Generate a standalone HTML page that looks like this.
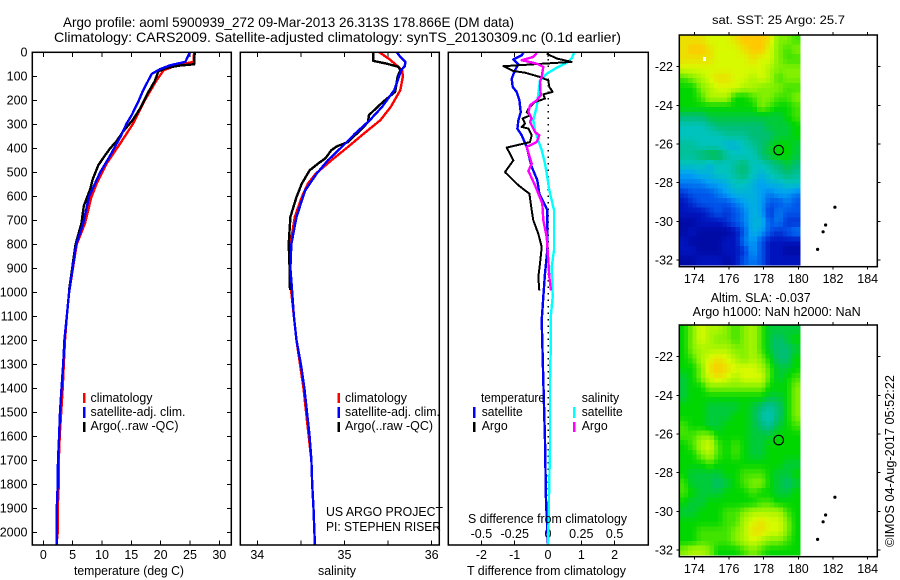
<!DOCTYPE html>
<html lang="en">
<head>
<meta charset="utf-8">
<title>Argo profile 5900939_272</title>
<style>
html,body{margin:0;padding:0;background:#fff;width:900px;height:580px;overflow:hidden}
svg{display:block}
text{font-family:"Liberation Sans",sans-serif;font-size:12.5px;fill:#000}
.title{font-size:14px}
</style>
</head>
<body>
<svg id="fig" width="900" height="580" viewBox="0 0 900 580" xmlns="http://www.w3.org/2000/svg">
  <rect x="0" y="0" width="900" height="580" fill="#fff"/>
  <text class="title" x="63" y="27" textLength="451" lengthAdjust="spacingAndGlyphs">Argo profile: aoml 5900939_272 09-Mar-2013 26.313S 178.866E (DM data)</text>
  <text class="title" x="54" y="42" textLength="567" lengthAdjust="spacingAndGlyphs">Climatology: CARS2009. Satellite-adjusted climatology: synTS_20130309.nc (0.1d earlier)</text>

  <g id="p1"></g>
  <g id="p2"></g>
  <g id="p3"></g>
  <g id="m1"></g>
  <g id="m2"></g>

  <text x="74" y="575" textLength="110" lengthAdjust="spacingAndGlyphs">temperature (deg C)</text>
  <text x="318" y="575" textLength="38" lengthAdjust="spacingAndGlyphs">salinity</text>
  <text x="467" y="575" textLength="159" lengthAdjust="spacingAndGlyphs">T difference from climatology</text>
  <text x="468" y="523" textLength="159" lengthAdjust="spacingAndGlyphs">S difference from climatology</text>

  <g>
    <rect x="83" y="393" width="2.5" height="10" fill="#f00"/>
    <rect x="83" y="407" width="2.5" height="11" fill="#00f"/>
    <rect x="83" y="422" width="2.5" height="10" fill="#000"/>
    <text x="90.5" y="402" textLength="62" lengthAdjust="spacingAndGlyphs">climatology</text>
    <text x="90.5" y="416" textLength="95" lengthAdjust="spacingAndGlyphs">satellite-adj. clim.</text>
    <text x="90.5" y="430" textLength="88" lengthAdjust="spacingAndGlyphs">Argo(..raw -QC)</text>
  </g>
  <g>
    <rect x="337.5" y="393" width="2.5" height="10" fill="#f00"/>
    <rect x="337.5" y="407" width="2.5" height="11" fill="#00f"/>
    <rect x="337.5" y="422" width="2.5" height="10" fill="#000"/>
    <text x="345" y="402" textLength="62" lengthAdjust="spacingAndGlyphs">climatology</text>
    <text x="345" y="416" textLength="95" lengthAdjust="spacingAndGlyphs">satellite-adj. clim.</text>
    <text x="345" y="430" textLength="88" lengthAdjust="spacingAndGlyphs">Argo(..raw -QC)</text>
  </g>
  <text x="326" y="516" textLength="117" lengthAdjust="spacingAndGlyphs">US ARGO PROJECT</text>
  <text x="326" y="531" textLength="115" lengthAdjust="spacingAndGlyphs">PI: STEPHEN RISER</text>

  <g>
    <text x="481" y="402" textLength="64" lengthAdjust="spacingAndGlyphs">temperature</text>
    <text x="581.7" y="402" textLength="37.5" lengthAdjust="spacingAndGlyphs">salinity</text>
    <rect x="473" y="407" width="2.5" height="11" fill="#00f"/>
    <rect x="473" y="422" width="2.5" height="10" fill="#000"/>
    <rect x="573" y="407" width="2.5" height="11" fill="#0ff"/>
    <rect x="573" y="422" width="2.5" height="10" fill="#f0f"/>
    <text x="481.7" y="416" textLength="41" lengthAdjust="spacingAndGlyphs">satellite</text>
    <text x="481.7" y="430" textLength="26" lengthAdjust="spacingAndGlyphs">Argo</text>
    <text x="581.7" y="416" textLength="41" lengthAdjust="spacingAndGlyphs">satellite</text>
    <text x="581.7" y="430" textLength="26" lengthAdjust="spacingAndGlyphs">Argo</text>
  </g>

  <text x="712" y="24" textLength="133" lengthAdjust="spacingAndGlyphs" style="font-size:11.5px">sat. SST: 25 Argo: 25.7</text>
  <text x="710.7" y="302" textLength="100" lengthAdjust="spacingAndGlyphs">Altim. SLA: -0.037</text>
  <text x="692.7" y="316" textLength="168" lengthAdjust="spacingAndGlyphs">Argo h1000: NaN h2000: NaN</text>
  <text transform="translate(894,547) rotate(-90)" x="0" y="0" textLength="172" lengthAdjust="spacingAndGlyphs">©IMOS 04-Aug-2017 05:52:22</text>
</svg>

<script>
// ---- depth tick data ----
const depthTicks = [0,100,200,300,400,500,600,700,800,900,1000,1100,1200,1300,1400,1500,1600,1700,1800,1900,2000];
const tempTicks = [0,5,10,15,20,25,30];
const salTicks = [34,34.5,35,35.5,36];
const salTickLabels = ['34','','35','','36'];
const diffTTicks = [-2,-1,0,1,2];
const diffSTickLabels = ['-0.5','-0.25','0','0.25','0.5'];
const diffSTicks = [-0.5,-0.25,0,0.25,0.5];
const lonTicks = [174,176,178,180,182,184];
const latTicks = [-22,-24,-26,-28,-30,-32];

// ---- temperature profiles (depth in dbar, value in deg C) ----
const climTempDepth = [0,40,54,75,117,200,297,380,463,547,603,713,800,1000,1100,1200,1300,1400,1500,1600,1700,1800,1900,2000,2050];
const climTempValue = [25.7,25.6,22.7,20.5,19.3,17.3,15.3,13.1,10.8,9.1,8.2,7.1,5.7,4.4,4.0,3.7,3.5,3.3,3.05,2.8,2.65,2.65,2.45,2.45,2.25];
const satTempDepth = [0,40,54,70,90,117,160,200,260,297,350,430,500,600,713,800,1000,1100,1200,1300,1400,1500,1600,1700,1800,1900,2000,2050];
const satTempValue = [25.0,24.2,21.6,19.9,18.5,17.9,17.0,16.3,15.1,14.2,13.2,11.4,9.7,7.8,6.8,5.6,4.4,4.0,3.6,3.4,3.1,2.85,2.7,2.5,2.45,2.3,2.3,2.3];
const argoTempDepth = [0,50,55,65,80,120,170,230,280,330,370,400,430,470,530,570,640,713,800,990];
const argoTempValue = [25.8,25.7,23.3,21,19.6,19,17.8,16.6,15.3,13.6,12.5,11.4,10.5,9.4,8.4,8,6.9,6.5,5.5,4.4];

// ---- salinity profiles (depth, psu) ----
const climSalDepth = [0,30,55,75,100,158,228,283,339,394,450,506,547,603,686,800,900,1000,1100,1200,1300,1400,1500,1600,1700,1800,1900,2000,2050];
const climSalValue = [35.40,35.52,35.6,35.66,35.67,35.64,35.53,35.41,35.22,35.04,34.85,34.67,34.58,34.51,34.43,34.38,34.37,34.39,34.42,34.45,34.49,34.53,34.56,34.59,34.62,34.63,34.645,34.655,34.66];
const satSalDepth = [0,19,40,58,75,117,158,228,283,339,394,450,506,575,630,686,800,900,1000,1100,1200,1300,1400,1500,1600,1700,1800,1900,2000,2050];
const satSalValue = [35.6,35.64,35.70,35.69,35.65,35.61,35.57,35.43,35.29,35.12,34.97,34.81,34.68,34.55,34.50,34.45,34.39,34.38,34.40,34.42,34.45,34.50,34.54,34.57,34.6,34.62,34.63,34.645,34.655,34.66];
const argoSalDepth = [0,36,47,61,75,100,165,207,234,262,290,311,346,374,392,408,442,463,492,547,603,686,800,900,990];
const argoSalValue = [35.33,35.33,35.48,35.62,35.64,35.61,35.58,35.44,35.36,35.28,35.27,35.22,35.12,35.04,34.91,34.85,34.78,34.70,34.6,34.51,34.45,34.38,34.36,34.37,34.375];

// ---- differences from climatology ----
const satDTDepth = [3,12,30,50,75,110,144,165,200,249,283,318,346,394,450,477,533,589,637,658,825,922,1019,1117,1367,1617,1867,1992,2050];
const satDTValue = [-0.74,-0.79,-1.04,-0.89,-0.99,-1.09,-1.06,-0.94,-0.86,-0.82,-0.89,-0.92,-0.79,-0.64,-0.54,-0.49,-0.32,-0.26,-0.09,-0.02,-0.02,-0.09,-0.14,-0.19,-0.14,-0.09,-0.06,-0.02,0];
const argoDTDepth = [6,26,40,58,78,85,103,117,144,165,175,193,207,235,249,263,276,297,311,318,346,374,397,450,499,554,589,658,700,756,811,881,936,992];
const argoDTValue = [-0.04,0.26,0.71,-1.34,-1.04,-0.69,-0.24,0.01,0.04,0.14,-0.14,-0.09,-0.39,-0.59,-0.64,-0.54,-0.76,-0.69,-0.79,-0.59,-0.49,-0.54,-1.24,-1.04,-1.29,-0.89,-0.56,-0.49,-0.44,-0.29,-0.19,-0.24,-0.29,-0.26];
const satDSDepth = [3,26,44,64,89,117,172,228,283,325,367,408,464,505,575,617,658,825,894,1019,1103,1200,1367,1646,2000,2050];
const satDSValue = [0.195,0.178,0.14,0.065,-0.01,-0.06,-0.0725,-0.085,-0.11,-0.0975,-0.0725,-0.0475,-0.0225,-0.01,0.01,0.0275,0.045,0.045,0.0275,0.035,0.02,0.022,0.015,0.015,0.002,0];
const argoDSDepth = [3,19,33,47,61,103,124,179,200,221,249,276,290,332,346,374,394,464,494,554,630,700,769,867,936,992];
const argoDSValue = [-0.085,-0.11,-0.1975,-0.085,-0.035,-0.0475,-0.06,-0.055,-0.085,-0.135,-0.1475,-0.1225,-0.135,-0.0975,-0.065,-0.085,-0.16,-0.1225,-0.1475,-0.0975,-0.0425,-0.035,-0.01,0.0025,0.01,0.0225];

// ---- map data (colour index 0..9, west to east, north to south) ----
const sstValues = [
[8.5,8.5,8.5,8,8,8,8.5,9,9,9,8.5,7,7,6.5],
[8.5,9,9,8.5,8,8,8,8.5,9,9,8,7,6.5,7],
[8.5,8.5,8.5,8.5,8,8,8,8,8.5,8,8,7,6.5,6.5],
[8,8,8,8,8,8,8,8,8,8,7.5,7,7,7],
[6.5,7,7.5,8,8.5,8.5,8,8,7.5,8,7.5,6.5,7,7],
[6,6,7,7.5,8,8,8,7.5,7.5,7,7,7,6.5,6.5],
[6,6,6.5,7.5,7.5,7.5,6,6,6.5,7,7,6.5,6.5,7],
[6,6,6,6,6,6,6,6,6,7,6.5,6,6,6.5],
[5,5,5,5.5,5.5,5.5,5.5,5.5,5.5,5.5,5.5,5.5,6,6.5],
[4,4,4,4.5,5,5,5,5,5,5,5.5,5.5,5.5,6],
[4,4,4,4,4,4.5,4.5,4.5,5,5,5,5.5,5.5,6],
[4.5,4.5,4,4,4,3.5,3.5,4,4.5,5,5.5,6,6,5.5],
[4.5,4.5,5,5.5,5.5,4.5,4,4,4,5,5.5,6,6,5.5],
[4,4,4,3.5,4,4,4.5,5,4,4,4.5,5,5.5,5],
[3,3,3.5,3.5,4,4,4.5,5,4,3.5,4,4.5,5,4.5],
[2.5,2.5,2.5,3,3,3.5,4,4,3.5,3,3.5,3.5,4,4],
[1.5,2,2,2,2.5,3,3.5,3.5,3.5,3,2.5,3,3,2.5],
[1,1.5,2,2,2,2,2.5,3,3.5,3,2,2,2.5,2],
[1,1,1,1.5,2,1.5,2,2.5,3.5,3,1.5,2.5,2,2],
[0.5,0.5,1,1,1,1.5,2,2.5,3.5,3.5,2,2.5,1.5,1.5],
[0.5,1,0.5,0.5,0.5,0.5,1,2,3.5,3,2,1.5,2,2.5],
[1,0.5,0.5,0.5,0.5,1,1,2.5,3,2,1,1,1,1],
[1,1,0.5,0.5,0.5,1,1,1.5,3,2,1,1,0.5,0.5],
[0.5,0.5,1,1,1,0.5,1,2,2.5,2,1,1,1,1]
];
const slaValues = [
[6,7,8,7.5,7.5,7,6.5,7,7.5,6.5,5.5,5.5,5.5,5.5],
[6,7,8,7.5,7,7,6.5,7,7.5,6.5,5.5,5,5.5,6],
[6,7,7.5,7.5,7.5,7.5,7,7,7.5,6.5,5.5,5,5,5.5],
[6,6.5,7.5,8,8.5,8,7.5,7,7.5,7,6,5,5,6],
[6,6,7,8.5,9,8.5,8,8,8,7.5,6.5,5.5,5.5,6],
[5.5,6,7,8,8.5,8,7.5,8,8,8,6.5,5.5,6,6.5],
[5.5,6,6,7,7,7,7,7,7,7,6,6,6,7],
[5.5,6,6,6,6,6,6,6,6,6,5.5,5.5,6,7],
[6,6,6,5.5,5.5,5.5,5.5,6,5.5,5,4.5,5,6,7],
[6,6,6,5.5,5.5,5.5,6,6,5.5,4.5,4,5,6,7],
[6.5,6,6,5.5,5.5,6,6,6,5.5,5,4.5,5.5,6,6.5],
[6.5,6.5,7,7,6,6,6,6,5.5,5.5,5.5,6,6,6],
[6,6.5,7.5,8,6.5,6,6.5,6,5.5,5.5,6,6,6,6],
[6,6,7,7.5,6.5,6,6.5,6,5.5,5.5,6,6,6,6],
[6,6,6,6.5,6,6,6,6,6,6,6,6,5.5,5.5],
[6,5.5,5.5,5.5,5.5,6,6,6.5,6.5,6.5,6,5.5,5.5,6],
[6.5,5.5,5.5,5.5,5,5.5,6,6.5,7,7,6,5.5,5,5.5],
[6.5,6,5.5,5.5,5.5,6,6,6,6.5,6,6,5.5,5.5,6],
[6,5.5,5.5,6,6,6,6,6,6,6.5,6.5,6,6,6],
[5.5,5.5,6,6,6,6.5,6.5,7,7.5,7.5,7.5,7.5,6.5,6],
[6,6,6,6,6,6.5,6.5,7.5,8,8.5,8,8,7,6],
[6,6,6.5,6.5,6.5,6.5,7,7.5,8.5,8.5,8,8,7,6],
[6,6,6.5,6.5,6.5,6.5,7,7.5,8,7.5,7,7,6.5,6],
[7,7.5,7.5,7,6,6,6,6.5,7,6.5,6,6,6,6]
];
const coastLon = [182.11,181.57,181.43,181.11];
const coastLat = [-29.27,-30.19,-30.54,-31.45];
const argoLon = 178.866;
const argoLat = -26.313;

// ---- axis functions ----
const NS = 'http://www.w3.org/2000/svg';
const yDepth = d => 52.3 + d * 0.24;
const xTemp = v => 43.3 + v * 5.867;
const xSal = v => 257.3 + (v - 34) * 87.2;
const xDT = v => 548 + v * 33.3;
const xDS = v => 548 + v * 133.2;
const xLon = v => 694.3 + (v - 174) * 17.34;
const yLat = (v, top) => top + 31.7 + (-22 - v) * 19.33;

function line(parent, x1, y1, x2, y2, name, w, color) {
  const el = document.createElementNS(NS, 'line');
  
  
  el.setAttribute('x1', x1);
  el.setAttribute('y1', y1);
  el.setAttribute('x2', x2);
  el.setAttribute('y2', y2);
  el.setAttribute('stroke', color || '#000');
  el.setAttribute('stroke-width', w || 1);
  el.setAttribute('shape-rendering', 'crispEdges');
  parent.appendChild(el);
  return el;
}
function label(parent, x, y, str, anchor, name) {
  const el = document.createElementNS(NS, 'text');
  
  
  el.setAttribute('x', x);
  el.setAttribute('y', y);
  el.setAttribute('text-anchor', anchor);
  el.textContent = str;
  parent.appendChild(el);
  return el;
}
function frame(parent, x, y, w, h, name) {
  const el = document.createElementNS(NS, 'rect');
  
  
  el.setAttribute('x', x);
  el.setAttribute('y', y);
  el.setAttribute('width', w);
  el.setAttribute('height', h);
  el.setAttribute('fill', 'none');
  el.setAttribute('stroke', '#000');
  el.setAttribute('stroke-width', 1.5);
  parent.appendChild(el);
  return el;
}
function profile(parent, depths, values, xf, color, name) {
  const el = document.createElementNS(NS, 'polyline');
  
  
  el.setAttribute('points', depths.map((d, i) => xf(values[i]).toFixed(1) + ',' + yDepth(d).toFixed(1)).join(' '));
  el.setAttribute('fill', 'none');
  el.setAttribute('stroke', color);
  el.setAttribute('stroke-width', 2.4);
  el.setAttribute('stroke-linejoin', 'round');
  el.setAttribute('shape-rendering', 'crispEdges');
  parent.appendChild(el);
  return el;
}

const TOP = 52.3, BOT = 545;

// ---- panel 1: temperature ----
const p1 = document.getElementById('p1');
depthTicks.forEach(d => {
  line(p1, 32.3, yDepth(d), 36.8, yDepth(d), 'depth-tick');
  line(p1, 226.8, yDepth(d), 231.3, yDepth(d), 'depth-tick-right');
  label(p1, 27.5, yDepth(d) + 4, String(d), 'end', 'depth-tick-label');
});
tempTicks.forEach(v => {
  line(p1, xTemp(v), TOP, xTemp(v), TOP + 4.5, 'temperature-tick-top');
  line(p1, xTemp(v), BOT, xTemp(v), BOT - 4.5, 'temperature-tick-bottom');
  label(p1, xTemp(v), 559, String(v), 'middle', 'temperature-tick-label');
});
profile(p1, climTempDepth, climTempValue, xTemp, '#f00', 'climatology-temperature-line');
profile(p1, argoTempDepth, argoTempValue, xTemp, '#000', 'argo-temperature-line');
profile(p1, satTempDepth, satTempValue, xTemp, '#00f', 'satellite-temperature-line');
frame(p1, 32.3, TOP, 199, BOT - TOP, 'temperature-plot-frame');

// ---- panel 2: salinity ----
const p2 = document.getElementById('p2');
salTicks.forEach((v, i) => {
  line(p2, xSal(v), TOP, xSal(v), TOP + 4.5, 'salinity-tick-top');
  line(p2, xSal(v), BOT, xSal(v), BOT - 4.5, 'salinity-tick-bottom');
  if (salTickLabels[i]) label(p2, xSal(v), 559, salTickLabels[i], 'middle', 'salinity-tick-label');
});
profile(p2, climSalDepth, climSalValue, xSal, '#f00', 'climatology-salinity-line');
profile(p2, argoSalDepth, argoSalValue, xSal, '#000', 'argo-salinity-line');
profile(p2, satSalDepth, satSalValue, xSal, '#00f', 'satellite-salinity-line');
frame(p2, 240.3, TOP, 199, BOT - TOP, 'salinity-plot-frame');

// ---- panel 3: differences ----
const p3 = document.getElementById('p3');
const zero = line(p3, xDT(0), TOP, xDT(0), BOT, 'zero-difference-line', 1.5);
zero.setAttribute('stroke-dasharray', '1.5 5');
diffTTicks.forEach(v => {
  line(p3, xDT(v), TOP, xDT(v), TOP + 4.5, 'difference-tick-top');
  line(p3, xDT(v), BOT, xDT(v), BOT - 4.5, 'difference-tick-bottom');
  label(p3, xDT(v), 559, String(v), 'middle', 't-difference-tick-label');
});
diffSTicks.forEach((v, i) => {
  label(p3, xDS(v), 538, diffSTickLabels[i], 'middle', 's-difference-tick-label');
});
profile(p3, satDTDepth, satDTValue, xDT, '#00f', 'satellite-t-difference-line');
profile(p3, satDSDepth, satDSValue, xDS, '#0ff', 'satellite-s-difference-line');
const argoDT = profile(p3, argoDTDepth, argoDTValue, xDT, '#000', 'argo-t-difference-line');
argoDT.setAttribute('stroke-width', 2);
profile(p3, argoDSDepth, argoDSValue, xDS, '#f0f', 'argo-s-difference-line');
frame(p3, 448.3, TOP, 200, BOT - TOP, 'difference-plot-frame');

// ---- maps ----
const colourStops = [[0,0,140],[0,20,190],[0,85,235],[0,160,245],[0,195,190],[0,190,115],[0,215,0],[130,240,0],[215,250,0],[255,200,0]];
function colour(v) {
  const i = Math.min(8, Math.floor(v));
  const f = v - i;
  const a = colourStops[i], b = colourStops[i + 1];
  return 'rgb(' + a.map((c, k) => Math.round(c + (b[k] - c) * f)).join(',') + ')';
}
// each source value is painted as 2x2 sub-cells, blended with its neighbours
function sample(values, r, c) {
  const rr = Math.max(0, Math.min(values.length - 1, r));
  const cc = Math.max(0, Math.min(values[0].length - 1, c));
  const r0 = Math.floor(rr), c0 = Math.floor(cc);
  const r1 = Math.min(values.length - 1, r0 + 1), c1 = Math.min(values[0].length - 1, c0 + 1);
  const fr = rr - r0, fc = cc - c0;
  return (values[r0][c0] * (1 - fc) + values[r0][c1] * fc) * (1 - fr) +
         (values[r1][c0] * (1 - fc) + values[r1][c1] * fc) * fr;
}
function drawMap(id, values, top, prefix) {
  const g = document.getElementById(id);
  const rows = values.length * 2, cols = values[0].length * 2;
  const cw = 120.5 / cols, ch = 230.3 / rows;
  for (let r = 0; r < rows; r++) {
    for (let c = 0; c < cols; c++) {
      const v = sample(values, (r + 0.5) / 2 - 0.5, (c + 0.5) / 2 - 0.5);
      const el = document.createElementNS(NS, 'rect');
      
      
      el.setAttribute('x', (679.5 + c * cw).toFixed(2));
      el.setAttribute('y', (top + r * ch).toFixed(2));
      el.setAttribute('width', (cw + 0.4).toFixed(2));
      el.setAttribute('height', (ch + 0.4).toFixed(2));
      el.setAttribute('fill', colour(v));
      el.setAttribute('shape-rendering', 'crispEdges');
      g.appendChild(el);
    }
  }
  const bottom = top + 231.7;
  lonTicks.forEach(v => {
    line(g, xLon(v), top - 3, xLon(v), top, prefix + '-lon-tick-top');
    line(g, xLon(v), bottom, xLon(v), bottom + 3, prefix + '-lon-tick-bottom');
    label(g, xLon(v), bottom + 16.5, String(v), 'middle', prefix + '-lon-label');
  });
  latTicks.forEach(v => {
    line(g, 676.3, yLat(v, top), 679.3, yLat(v, top), prefix + '-lat-tick-left');
    line(g, 877.3, yLat(v, top), 880.3, yLat(v, top), prefix + '-lat-tick-right');
    label(g, 673, yLat(v, top) + 4.5, String(v), 'end', prefix + '-lat-label');
  });
  coastLon.forEach((v, i) => {
    const el = document.createElementNS(NS, 'circle');
    
    
    el.setAttribute('cx', xLon(v).toFixed(1));
    el.setAttribute('cy', yLat(coastLat[i], top).toFixed(1));
    el.setAttribute('r', 1.6);
    el.setAttribute('fill', '#000');
    g.appendChild(el);
  });
  const c = document.createElementNS(NS, 'circle');
  
  
  c.setAttribute('cx', xLon(argoLon).toFixed(1));
  c.setAttribute('cy', yLat(argoLat, top).toFixed(1));
  c.setAttribute('r', 4.8);
  c.setAttribute('fill', 'none');
  c.setAttribute('stroke', '#000');
  c.setAttribute('stroke-width', 1.2);
  g.appendChild(c);
  frame(g, 679.3, top, 198, 231.7, prefix + '-frame');
}
drawMap('m1', sstValues, 35, 'sst-map');
drawMap('m2', slaValues, 325, 'sla-map');

const nanCell = document.createElementNS(NS, 'rect');


nanCell.setAttribute('x', 703);
nanCell.setAttribute('y', 57);
nanCell.setAttribute('width', 3);
nanCell.setAttribute('height', 4);
nanCell.setAttribute('fill', '#fff');
document.getElementById('m1').appendChild(nanCell);
</script>
</body>
</html>
